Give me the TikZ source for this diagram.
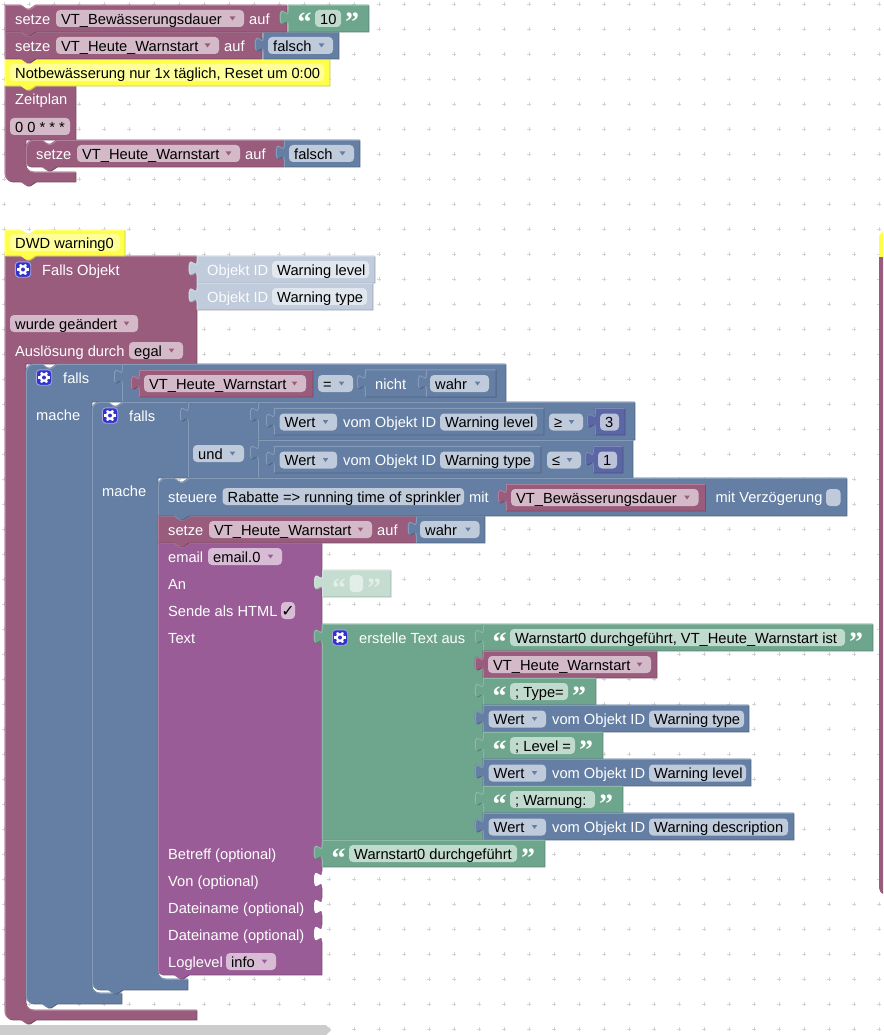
\documentclass[tikz,border=0pt]{standalone}
\usepackage{fontspec}
\setmainfont{Liberation Sans}
\newfontfamily\qf{Liberation Serif}
\newfontfamily\djv{DejaVu Sans}
\definecolor{cvar}{HTML}{9A5C7D}
\definecolor{clog}{HTML}{647FA3}
\definecolor{cnum}{HTML}{5B67A5}
\definecolor{ctxt}{HTML}{6EA58D}
\definecolor{cmail}{HTML}{995C96}
\definecolor{cyel}{HTML}{FFFF4A}
\definecolor{cdl}{HTML}{C0CCDB}
\definecolor{cdt}{HTML}{C5DCD1}
\definecolor{fvar}{HTML}{D4BAC9}
\definecolor{flog}{HTML}{BFCADB}
\definecolor{fnum}{HTML}{BDC2DB}
\definecolor{ftxt}{HTML}{C0DACD}
\definecolor{fmail}{HTML}{D8BCD6}
\definecolor{fyel}{HTML}{FFFF99}
\definecolor{fdl}{HTML}{E1E7EE}
\definecolor{fdt}{HTML}{E2EEE8}
\definecolor{gearc}{HTML}{3333CC}
\def\xCTL{.. controls +(0,-4.4) and +(-4.4,0) .. ++(8,-8)}
\def\xCBL{.. controls +(0,4.4) and +(-4.4,0) .. ++(8,8)}
\def\xCLU{.. controls +(-4.4,0) and +(0,4.4) .. ++(-8,-8)}
\def\xNR{-- ++(6,4) -- ++(3,0) -- ++(6,-4)}
\def\xNL{-- ++(-6,4) -- ++(-3,0) -- ++(-6,-4)}
\def\xTU{.. controls +(0,-10) and +(0,15.5) .. ++(-8,-7.5) .. controls +(0,-15.5) and +(0,10) .. ++(8,-7.5)}
\newcommand\blk[2]{%
 \fill[#1!78!black,shift={(0.4,0.4)}] #2;
 \begin{scope}[shift={(-0.4,-0.4)}]
 \fill[#1] #2;
 \begin{scope}\clip #2;\draw[#1!78!white,line width=1pt,shift={(0.7,0.7)}] #2;\end{scope}
 \end{scope}}
\newcommand\vb[5]{\blk{#1}{(#2,#3) -- (#4,#3) -- (#4,#5) -- (#2,#5) -- (#2,#3+20) \xTU -- cycle}}
\newcommand\st[5]{\blk{#1}{(#2,#3) -- (#2+16,#3) \xNR -- (#4,#3) -- (#4,#5) -- (#2+31,#5) \xNL -- (#2,#5) -- cycle}}
\newcommand\str[5]{\blk{#1}{(#2,#3+8) \xCTL -- (#2+16,#3) \xNR -- (#4,#3) -- (#4,#5) -- (#2+31,#5) \xNL -- (#2,#5) -- cycle}}
\newcount\nn
\newcommand\lab[4]{\global\advance\nn by 1 \node[text=#4,anchor=base west,inner sep=0pt] (n\the\nn) at (#1,#2) {#3};}
\newcommand\fld[5]{\fill[#4,rounded corners=4pt] (#1,#2) rectangle (#3,#2+17); \lab{#1+5}{#2+14.3}{#5}{black}}
\newcommand\dd[6]{\fld{#1}{#2}{#3}{#4}{#5}\fill[#6] (#3-14.3,#2+6.5) -- (#3-8.7,#2+6.5) -- (#3-11.5,#2+10.5) -- cycle;}
\newcommand\qq[4][white]{\global\advance\nn by 1 \node[text=#1,anchor=base,inner sep=0pt,font=\qf\bfseries\fontsize{28}{28}\selectfont] (n\the\nn) at (#2,#3+27) {#4};}
\newcommand\tb[5][ctxt]{\vb{#1}{#2}{#3}{#4+28}{#3+27}\qq{#2+16.5}{#3}{“}\fld{#2+27}{#3+5}{#4}{ftxt}{#5}\qq{#4+11}{#3}{”}}
\newcommand\wert[5]{\vb{clog}{#1}{#2}{#3}{#2+27}\dd{#1+5.5}{#2+5.5}{#1+63}{flog}{Wert}{clog}\lab{#1+69}{#2+19.8}{vom Objekt ID}{white}\fld{#1+166}{#2+5.5}{#4}{flog}{#5}}
\newcommand\gear[2]{\draw[gearc,fill=gearc,rounded corners=3.5pt,draw=gearc!45!white,line width=0.9pt] (#1-7.7,#2-7.7) rectangle (#1+7.7,#2+7.7);
 \foreach \a in {0,60,...,300}{\draw[white,line width=2.3pt] (#1,#2)+(\a:3) -- +(\a:5.8);}
 \fill[white] (#1,#2) circle (4.4pt); \fill[gearc] (#1,#2) circle (2pt);}
\newcommand\sock[1]{\fill[white] (323.5,#1+3) -- (322,#1+5) .. controls +(0,10) and +(0,-15.5) .. ++(-8,7.5) .. controls +(0,15.5) and +(0,-10) .. ++(8,7.5) -- (323.5,#1+22) -- cycle;}
\begin{document}
\begin{tikzpicture}[x=1pt,y=-1pt,font=\fontsize{14.67}{16}\selectfont]
\useasboundingbox (0,0) rectangle (883,1035);
\fill[white] (0,0) rectangle (883,1035);
\foreach \i in {0,...,35}{\foreach \j in {0,...,41}{
  \draw[black!17,line width=0.6pt] (4.3+25*\i-2,4.3+25*\j) -- +(4,0) (4.3+25*\i,4.3+25*\j-2) -- +(0,4);}}
% scrollbar and right edge
\fill[black!20] (0,1025) -- (326,1025) -- (331,1030) -- (326,1035) -- (0,1035) -- cycle;
\fill[cyel] (883,231) -- (883,257) -- (879,257) -- (879,236) -- cycle;
\fill[cvar] (879,257) -- (883,257) -- (883,894) .. controls (881,893) and (879,891) .. (879,888) -- cycle;
% === first group ===
\blk{cvar}{(5,86) -- (21,86) \xNR -- (76,86) -- (76,140) -- (26,140) -- (26,164) \xCBL -- (76,172) -- (76,182) -- (36,182) \xNL -- (13,182) \xCLU -- cycle}
\lab{15}{105}{Zeitplan}{white}
\fld{10}{118}{70}{fvar}{0 0 * * *}
\blk{cvar}{(26,148) \xCTL -- (42,140) \xNR -- (284,140) -- (284,167) -- (57,167) \xNL -- (31,167) .. controls (28,167) and (26,165) .. (26,162) -- cycle}
\lab{36}{159.3}{setze}{white}
\dd{77}{145}{240}{fvar}{VT\_Heute\_Warnstart}{cvar}
\lab{245}{159.3}{auf}{white}
\vb{clog}{284}{140}{360}{167}
\dd{289}{145}{354}{flog}{falsch}{clog}
% comment 1
\st{cyel}{5}{59}{330}{86}
\fld{10}{64}{324}{fyel}{Notbewässerung nur 1x täglich, Reset um 0:00}
% setze 2
\st{cvar}{5}{32}{262}{59}
\lab{15}{51.3}{setze}{white}
\dd{56}{37}{219}{fvar}{VT\_Heute\_Warnstart}{cvar}
\lab{224}{51.3}{auf}{white}
\vb{clog}{263}{32}{339}{59}
\dd{268}{37}{333}{flog}{falsch}{clog}
% setze 1
\st{cvar}{5}{5}{287}{32}
\lab{15}{24.3}{setze}{white}
\dd{56}{10}{244}{fvar}{VT\_Bewässerungsdauer}{cvar}
\lab{249}{24.3}{auf}{white}
\tb{288}{5}{341}{10}
% === DWD ===
\blk{cvar}{(5,256) -- (21,256) \xNR -- (197,256) -- (197,364) -- (26,364) -- (26,1002) \xCBL -- (197,1010) -- (197,1020) -- (36,1020) \xNL -- (13,1020) \xCLU -- cycle}
\gear{23}{269.5}
\lab{42}{275}{Falls Objekt}{white}
\vb{cdl}{197}{256}{375}{283}
\lab{207}{275.3}{Objekt ID}{white!93!cdl}
\fld{272}{261}{369}{fdl}{Warning level}
\vb{cdl}{197}{283}{373}{310}
\lab{207}{302.3}{Objekt ID}{white!93!cdl}
\fld{272}{288}{367}{fdl}{Warning type}
\dd{10}{315}{138}{fvar}{wurde geändert}{cvar}
\lab{15}{356.3}{Auslösung durch}{white}
\dd{129}{342}{183}{fvar}{egal}{cvar}
\st{cyel}{5}{230}{125}{256}
\fld{10}{234}{120}{fyel}{DWD warning0}
% falls 1
\blk{clog}{(26,372) \xCTL -- (42,364) \xNR -- (122,364) -- (122,402) -- (92,402) -- (92,985) \xCBL -- (122,993) -- (122,1004) -- (57,1004) \xNL -- (34,1004) \xCLU -- cycle}
\gear{44}{377.5}
\lab{63}{383}{falls}{white}
\lab{36}{420}{mache}{white}
\vb{clog}{122}{364}{506}{402}
\vb{cvar}{139}{370}{313}{397}
\dd{144}{375}{306}{fvar}{VT\_Heute\_Warnstart}{cvar}
\dd{318}{375}{353}{flog}{=}{clog}
\vb{clog}{365}{369.5}{496}{397}
\lab{375}{389.3}{nicht}{white}
\vb{clog}{426}{369.5}{496}{397}
\dd{430}{375}{489}{flog}{wahr}{clog}
% falls 2
\blk{clog}{(92,410) \xCTL -- (108,402) \xNR -- (188,402) -- (188,478) -- (158,478) -- (158,971) \xCBL -- (188,979) -- (188,990) -- (123,990) \xNL -- (100,990) \xCLU -- cycle}
\gear{110}{415.5}
\lab{129}{421}{falls}{white}
\lab{102}{496}{mache}{white}
\vb{clog}{188}{402}{258}{478}
\dd{193}{445}{244}{flog}{und}{clog}
\vb{clog}{258}{402}{635}{440}
\wert{274}{408}{544}{537}{Warning level}
\dd{549}{413.5}{583}{flog}{≥}{clog}
\vb{cnum}{595}{408}{625}{435}
\fld{600}{413.5}{619}{fnum}{3}
\vb{clog}{258}{440}{633}{478}
\wert{274}{446}{541}{534}{Warning type}
\dd{547}{451.5}{581}{flog}{≤}{clog}
\vb{cnum}{593}{446}{623}{473}
\fld{598}{451.5}{617}{fnum}{1}
% email
\blk{cmail}{(158,543) -- (174,543) \xNR -- (322,543) -- (322,975) -- (189,975) \xNL -- (163,975) .. controls (160,975) and (158,973) .. (158,970) -- cycle}
\lab{168}{562.3}{email}{white}
\dd{208}{548}{282}{fmail}{email.0}{cmail}
\lab{168}{589}{An}{white}
\lab{168}{616}{Sende als HTML}{white}
\fill[fmail,rounded corners=4pt] (281,602) rectangle (295,619);
\global\advance\nn by 1 \node[text=black,anchor=base,inner sep=0pt,font=\djv\fontsize{16}{16}\selectfont] (n\the\nn) at (288,616.5) {✓};
\lab{168}{643}{Text}{white}
\lab{168}{859}{Betreff (optional)}{white}
\lab{168}{886}{Von (optional)}{white}
\lab{168}{913}{Dateiname (optional)}{white}
\lab{168}{940}{Dateiname (optional)}{white}
\lab{168}{967}{Loglevel}{white}
\dd{226}{953}{276}{fmail}{info}{cmail}
\sock{867}\sock{894}\sock{921}
\vb{cdt}{322.5}{570}{391}{597}
\qq[fdt]{339}{570}{“}
\fill[fdt,rounded corners=4pt] (349.5,575) rectangle (363,592);
\qq[fdt]{374}{570}{”}
% text join
\vb{ctxt}{322}{624}{483}{840}
\gear{340}{637.5}
\lab{359}{643}{erstelle Text aus}{white}
\tb{483}{624}{845}{Warnstart0 durchgeführt, VT\_Heute\_Warnstart ist}
\vb{cvar}{483}{651}{657}{678}
\dd{488}{656}{651}{fvar}{VT\_Heute\_Warnstart}{cvar}
\tb{483}{678}{568}{; Type=}
\wert{483}{705}{749}{744}{Warning type}
\tb{483}{732}{575}{; Level =}
\wert{483}{759}{751}{746}{Warning level}
\tb{483}{786}{595}{; Warnung:}
\wert{483}{813}{794}{788}{Warning description}
\tb{322}{840}{517}{Warnstart0 durchgeführt}
% setze 3
\st{cvar}{158}{516}{416}{543}
\lab{168}{535.3}{setze}{white}
\dd{209}{521}{372}{fvar}{VT\_Heute\_Warnstart}{cvar}
\lab{377}{535.3}{auf}{white}
\vb{clog}{416}{516}{485}{543}
\dd{420}{521}{479.5}{flog}{wahr}{clog}
% steuere
\str{clog}{158}{478}{847}{516}
\lab{168}{502.3}{steuere}{white}
\fld{222.5}{488}{464}{flog}{Rabatte => running time of sprinkler}
\lab{469}{502.3}{mit}{white}
\vb{cvar}{506}{484}{705.5}{511}
\dd{511}{489}{698.5}{fvar}{VT\_Bewässerungsdauer}{cvar}
\lab{715.5}{502.3}{mit Verzögerung}{white}
\fill[flog,rounded corners=4pt] (826,489) rectangle (840.5,506);
\end{tikzpicture}
\end{document}
